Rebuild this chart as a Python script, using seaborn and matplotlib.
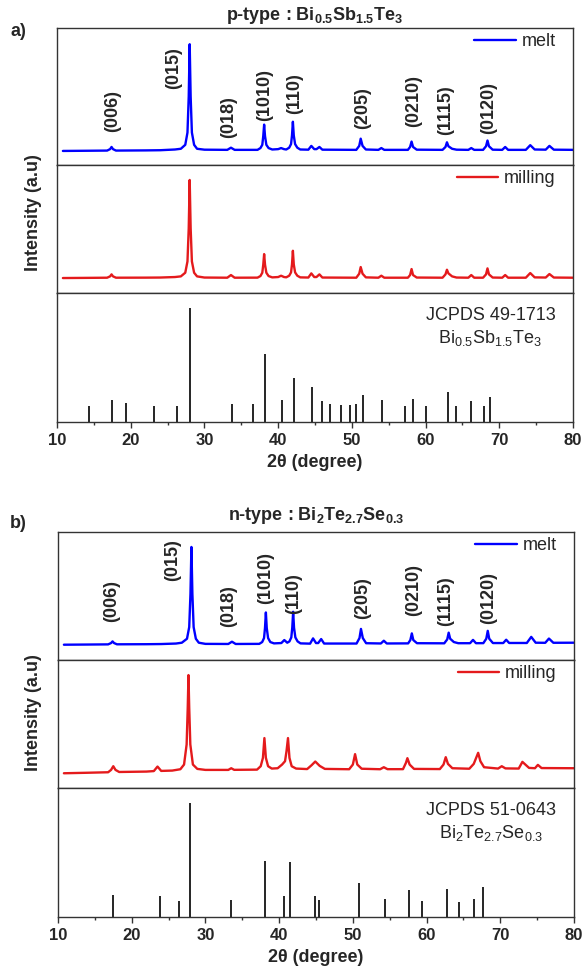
import numpy as np
import matplotlib
matplotlib.use("Agg")
import matplotlib.pyplot as plt
import seaborn as sns

# XRD patterns (2theta in degrees, intensity in a.u.)
melt_a_tt = [10.8, 14.0, 16.8, 17.2, 17.4, 17.6, 18.0, 22.0, 24.0, 26.0, 26.8, 27.4, 27.7, 27.87, 28.0,
             28.13, 28.3, 28.6, 29.0, 30.0, 33.1, 33.6, 34.1, 37.2, 37.6, 37.85, 37.98, 38.1, 38.22, 38.4,
             38.7, 39.2, 40.0, 40.4, 40.8, 41.1, 41.5, 41.75, 41.88, 42.0, 42.12, 42.3, 42.6, 43.0, 44.1,
             44.5, 44.9, 45.2, 45.6, 46.0, 50.6, 51.0, 51.2, 51.45, 51.9, 53.6, 54.0, 54.4, 57.6, 57.9,
             58.1, 58.3, 58.8, 62.3, 62.7, 62.9, 63.1, 63.6, 64.2, 65.8, 66.2, 66.6, 67.8, 68.2, 68.4,
             68.6, 69.1, 70.4, 70.8, 71.2, 73.6, 74.2, 74.8, 76.3, 76.8, 77.4, 80.0]
melt_a_int = [390, 395, 400, 440, 500, 440, 400, 405, 410, 430, 450, 560, 900, 1900, 3350,
              1900, 900, 560, 450, 425, 420, 480, 420, 420, 470, 560, 800, 1120, 800, 560,
              470, 430, 440, 470, 440, 430, 480, 580, 820, 1200, 820, 580, 480, 430, 425,
              530, 440, 440, 500, 425, 420, 530, 730, 530, 430, 420, 470, 420, 420, 500,
              650, 500, 425, 420, 500, 630, 520, 450, 425, 420, 470, 420, 420, 520, 680,
              520, 425, 420, 500, 420, 420, 550, 430, 425, 530, 425, 420]

mill_a_tt = melt_a_tt
mill_a_int = [450, 455, 460, 500, 560, 500, 460, 462, 465, 480, 500, 610, 950, 1950, 3400,
              1950, 950, 610, 500, 465, 460, 540, 460, 462, 510, 610, 850, 1170, 850, 610,
              510, 470, 480, 520, 480, 472, 520, 620, 860, 1270, 860, 620, 520, 470, 465,
              590, 480, 480, 560, 465, 460, 580, 780, 580, 470, 460, 520, 460, 460, 540,
              720, 540, 465, 460, 560, 700, 590, 500, 465, 460, 540, 460, 460, 560, 740,
              560, 465, 460, 540, 460, 460, 600, 470, 465, 570, 465, 460]

melt_b_tt = [10.8, 14.0, 16.8, 17.2, 17.4, 17.6, 18.0, 22.0, 24.0, 26.0, 26.8, 27.5, 27.8, 27.97, 28.1,
             28.23, 28.4, 28.7, 29.1, 30.0, 33.1, 33.6, 34.1, 37.3, 37.7, 37.95, 38.08, 38.2, 38.32, 38.5,
             38.8, 39.3, 40.3, 40.7, 41.1, 41.4, 41.65, 41.78, 41.9, 42.02, 42.2, 42.5, 42.9, 44.2, 44.6,
             45.0, 45.3, 45.7, 46.1, 50.5, 50.9, 51.1, 51.35, 51.8, 53.8, 54.2, 54.6, 57.5, 57.8, 58.0,
             58.2, 58.7, 62.4, 62.8, 63.0, 63.2, 63.7, 64.3, 65.9, 66.3, 66.7, 67.7, 68.1, 68.3, 68.5,
             69.0, 70.4, 70.8, 71.2, 73.6, 74.2, 74.8, 76.1, 76.6, 77.2, 80.0]
melt_b_int = [460, 465, 470, 510, 560, 510, 472, 475, 480, 495, 520, 640, 990, 1990, 3400,
              1990, 990, 640, 520, 485, 482, 550, 482, 485, 540, 660, 960, 1430, 960, 660,
              540, 500, 510, 600, 520, 560, 680, 970, 1450, 970, 680, 560, 500, 492, 650,
              510, 510, 630, 495, 495, 660, 935, 660, 505, 497, 580, 497, 500, 600, 800,
              600, 505, 502, 620, 822, 640, 540, 505, 505, 605, 505, 507, 640, 877, 640,
              510, 510, 610, 512, 512, 695, 520, 517, 645, 518, 520]

mill_b_tt = [10.8, 14.0, 16.8, 17.2, 17.5, 17.8, 18.3, 22.0, 23.0, 23.5, 24.0, 25.5, 26.6, 27.1, 27.45,
             27.6, 27.7, 27.8, 27.95, 28.3, 28.9, 30.0, 33.1, 33.5, 33.9, 37.0, 37.5, 37.8, 38.0, 38.2,
             38.5, 39.0, 39.8, 40.4, 40.8, 41.0, 41.2, 41.4, 41.7, 42.3, 43.8, 44.4, 44.9, 45.5, 46.2,
             49.5, 50.0, 50.3, 50.6, 51.2, 53.7, 54.2, 54.7, 56.8, 57.2, 57.4, 57.7, 58.3, 61.8, 62.3,
             62.6, 62.9, 63.5, 65.8, 66.4, 67.0, 67.3, 67.8, 69.7, 70.2, 70.7, 72.5, 73.0, 73.3, 73.9,
             74.7, 75.1, 75.6, 80.0]
mill_b_int = [440, 455, 470, 540, 650, 540, 478, 490, 505, 640, 510, 520, 560, 700, 1300,
              2400, 3370, 2400, 1300, 700, 570, 540, 540, 590, 542, 548, 650, 900, 1490, 900,
              650, 580, 590, 700, 800, 1100, 1490, 900, 650, 580, 565, 680, 790, 660, 570,
              560, 700, 1010, 700, 575, 560, 620, 562, 562, 750, 890, 700, 570, 565, 700,
              920, 720, 590, 575, 720, 1050, 800, 620, 580, 650, 585, 580, 780, 720, 600,
              590, 690, 595, 590]

# reference cards
ref_a_tt = [14.4, 17.4, 19.4, 23.1, 26.3, 28.1, 33.7, 36.6, 38.2, 40.5, 42.2, 44.6, 45.9, 47.0,
            48.5, 49.7, 50.5, 51.5, 54.1, 57.2, 58.3, 60.0, 63.1, 64.1, 66.2, 67.9, 68.8]
ref_a_int = [14, 19, 17, 14, 14, 100, 16, 16, 60, 19, 39, 31, 18, 16,
             15, 15, 16, 24, 19, 14, 20, 14, 26, 14, 18, 14, 22]
ref_b_tt = [17.5, 23.8, 26.4, 27.9, 33.5, 38.1, 40.6, 41.5, 44.9, 45.4, 50.8, 54.3, 57.6, 59.4,
            62.8, 64.4, 66.5, 67.7]
ref_b_int = [19, 18, 14, 100, 15, 49, 18, 48, 18, 15, 30, 16, 24, 14, 25, 13, 16, 26]

hkl_labels = ["(006)", "(015)", "(018)", "(1010)", "(110)", "(205)", "(0210)", "(1115)", "(0120)"]
hkl_a_tt = [17.6, 25.8, 33.3, 38.2, 42.2, 51.5, 58.4, 62.7, 68.5]
hkl_a_y = [0.24, 0.555, 0.20, 0.32, 0.37, 0.26, 0.28, 0.22, 0.225]
hkl_b_tt = [17.3, 25.5, 33.2, 38.2, 41.9, 51.3, 58.3, 62.6, 68.4]
hkl_b_y = [0.30, 0.62, 0.26, 0.44, 0.36, 0.32, 0.34, 0.265, 0.285]

sns.set_theme(style="ticks")
plt.rcParams["font.family"] = ["Liberation Sans", "DejaVu Sans"]
plt.rcParams["mathtext.fontset"] = "custom"
plt.rcParams["mathtext.rm"] = "Liberation Sans"
plt.rcParams["mathtext.bf"] = "Liberation Sans:bold"
plt.rcParams["mathtext.it"] = "Liberation Sans:italic"
plt.rcParams["mathtext.default"] = "regular"

W, H = 585, 967
fig = plt.figure(figsize=(W / 100, H / 100), dpi=100)


def add_ax(x0, x1, y0, y1):
    return fig.add_axes([x0 / W, 1 - y1 / H, (x1 - x0) / W, (y1 - y0) / H])


def style(ax, bottom):
    ax.set_xlim(10, 80)
    ax.set_yticks([])
    ax.set_ylabel("")
    ax.set_xlabel("")
    for s in ax.spines.values():
        s.set_color("#333333")
        s.set_linewidth(1.0)
    if bottom:
        ax.set_xticks(range(10, 81, 10))
        ax.set_xticks(range(15, 80, 10), minor=True)
        ax.tick_params(axis="x", which="major", direction="out", length=4, width=1,
                       color="#333333", labelsize=12, pad=4)
        ax.tick_params(axis="x", which="minor", direction="out", length=2.5, width=1,
                       color="#333333")
        for t in ax.get_xticklabels():
            t.set_fontweight("bold")
        ax.set_xlabel("2θ (degree)", fontsize=13, fontweight="bold", labelpad=4.5)
    else:
        ax.set_xticks([])


panels = [
    dict(x0=57, x1=573, ys=[28, 165, 293, 422], melt=(melt_a_tt, melt_a_int), mill=(mill_a_tt, mill_a_int),
         lims=[3800, 3850], ref=(ref_a_tt, ref_a_int), hkl=(hkl_a_tt, hkl_a_y),
         card="JCPDS 49-1713\nBi$_{0.5}$Sb$_{1.5}$Te$_{3}$",
         title=r"p-type : Bi$_{\mathbf{0.5}}$Sb$_{\mathbf{1.5}}$Te$_{\mathbf{3}}$", tag="a)", tag_y=32, title_y=15),
    dict(x0=58, x1=574, ys=[532, 660, 788, 917], melt=(melt_b_tt, melt_b_int), mill=(mill_b_tt, mill_b_int),
         lims=[3850, 3820], ref=(ref_b_tt, ref_b_int), hkl=(hkl_b_tt, hkl_b_y),
         card="JCPDS 51-0643\nBi$_{2}$Te$_{2.7}$Se$_{0.3}$",
         title=r"n-type : Bi$_{\mathbf{2}}$Te$_{\mathbf{2.7}}$Se$_{\mathbf{0.3}}$", tag="b)", tag_y=524, title_y=515),
]

for p in panels:
    ys = p["ys"]
    ax1 = add_ax(p["x0"], p["x1"], ys[0], ys[1])
    ax2 = add_ax(p["x0"], p["x1"], ys[1], ys[2])
    ax3 = add_ax(p["x0"], p["x1"], ys[2], ys[3])

    sns.lineplot(x=p["melt"][0], y=p["melt"][1], ax=ax1, color="#0000FF", lw=1.7, label="melt")
    ax1.set_ylim(0, p["lims"][0])
    sns.lineplot(x=p["mill"][0], y=p["mill"][1], ax=ax2, color="#E41A1C", lw=1.7, label="milling")
    ax2.set_ylim(0, p["lims"][1])
    for ax in (ax1, ax2):
        ax.legend(loc="upper right", bbox_to_anchor=(0.98, 1.015), frameon=False, fontsize=13,
                  handlelength=2.3, handletextpad=0.3, borderaxespad=0.0)
        style(ax, False)

    ax3.vlines(p["ref"][0], 0, p["ref"][1], color="black", lw=1.2)
    ax3.set_ylim(0, 113.2)
    ax3.text(68.8, 0.735, p["card"], transform=ax3.get_xaxis_transform(), ha="center", va="center",
             fontsize=13, linespacing=1.25)
    style(ax3, True)

    tr = ax1.get_xaxis_transform()
    for lab, xx, yy in zip(hkl_labels, p["hkl"][0], p["hkl"][1]):
        ax1.text(xx, yy, lab, transform=tr, rotation=90, ha="center", va="bottom",
                 fontsize=13, fontweight="bold")

    xc = (p["x0"] + p["x1"]) / 2 / W
    fig.text(xc, 1 - p["title_y"] / H, p["title"], ha="center", va="center", fontsize=13, fontweight="bold")
    fig.text(10 / W, 1 - p["tag_y"] / H, p["tag"], ha="left", va="center", fontsize=13, fontweight="bold")
    fig.text(34 / W, 1 - ((ys[0] + ys[3]) / 2 - 12) / H, "Intensity (a.u)", rotation=90, ha="center",
             va="center", fontsize=13, fontweight="bold")

fig.savefig("out.png", dpi=100)
